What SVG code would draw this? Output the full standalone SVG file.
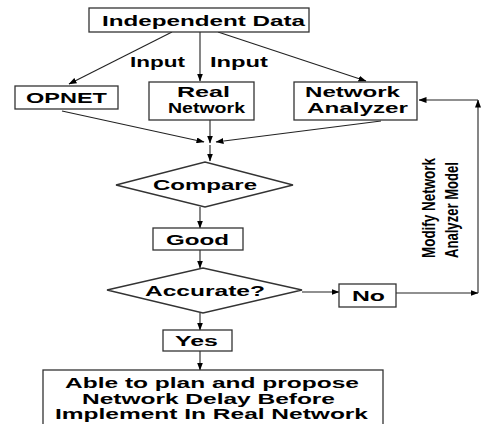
<svg xmlns="http://www.w3.org/2000/svg" width="485" height="424" viewBox="0 0 485 424">
<defs>
<marker id="ah" markerWidth="8" markerHeight="6" refX="7.5" refY="3" orient="auto" markerUnits="userSpaceOnUse">
<path d="M0,0 L8,3 L0,6 Z" fill="#000"/>
</marker>
<style>
.box{fill:#fff;stroke:#333;stroke-width:1.3}
.t{font-family:"Liberation Sans",Arial,sans-serif;font-weight:bold;font-size:15px;fill:#000}
.c{fill:none;stroke:#222;stroke-width:1.1}
.r{font-family:"Liberation Sans",Arial,sans-serif;font-weight:bold;font-size:18px;fill:#000}
</style>
</defs>
<rect width="485" height="424" fill="#fff"/>
<g id="connectors">
<line class="c" x1="172" y1="32" x2="69" y2="84" marker-end="url(#ah)"/>
<line class="c" x1="200" y1="32" x2="200" y2="81" marker-end="url(#ah)"/>
<line class="c" x1="218" y1="32" x2="366" y2="81" marker-end="url(#ah)"/>
<line class="c" x1="62" y1="111" x2="204" y2="142" marker-end="url(#ah)"/>
<line class="c" x1="210" y1="120" x2="210" y2="143" marker-end="url(#ah)"/>
<line class="c" x1="381" y1="121" x2="216" y2="142" marker-end="url(#ah)"/>
<line class="c" x1="210" y1="145" x2="210" y2="161" marker-end="url(#ah)"/>
<line class="c" x1="200" y1="207" x2="200" y2="228" marker-end="url(#ah)"/>
<line class="c" x1="200" y1="250" x2="200" y2="268" marker-end="url(#ah)"/>
<line class="c" x1="302" y1="292" x2="339" y2="292" marker-end="url(#ah)"/>
<line class="c" x1="396" y1="293" x2="478" y2="293" marker-end="url(#ah)"/>
<line class="c" x1="478" y1="293" x2="478" y2="100" marker-end="url(#ah)"/>
<line class="c" x1="478" y1="100" x2="419" y2="100" marker-end="url(#ah)"/>
<line class="c" x1="200" y1="313" x2="200" y2="330" marker-end="url(#ah)"/>
<line class="c" x1="200" y1="351" x2="200" y2="370" marker-end="url(#ah)"/>
<text class="t" x="130" y="67" textLength="55" lengthAdjust="spacingAndGlyphs">Input</text>
<text class="t" x="210" y="67" textLength="58" lengthAdjust="spacingAndGlyphs">Input</text>
<text class="r" transform="translate(435,208) rotate(-90)" text-anchor="middle" textLength="100" lengthAdjust="spacingAndGlyphs">Modify Network</text>
<text class="r" transform="translate(458,210) rotate(-90)" text-anchor="middle" textLength="96" lengthAdjust="spacingAndGlyphs">Analyzer Model</text>
</g>
<g id="independent-data">
<rect class="box" x="89" y="8" width="220" height="24"/>
<text class="t" x="102" y="26" textLength="203" lengthAdjust="spacingAndGlyphs">Independent Data</text>
</g>
<g id="opnet">
<rect class="box" x="15" y="86" width="103" height="23"/>
<text class="t" x="26" y="103" textLength="81" lengthAdjust="spacingAndGlyphs">OPNET</text>
</g>
<g id="real-network">
<rect class="box" x="149" y="82" width="105" height="38"/>
<text class="t" x="177" y="97" textLength="53" lengthAdjust="spacingAndGlyphs">Real</text>
<text class="t" x="168" y="113" textLength="77" lengthAdjust="spacingAndGlyphs">Network</text>
</g>
<g id="network-analyzer">
<rect class="box" x="294" y="82" width="123" height="38"/>
<text class="t" x="305" y="97" textLength="95" lengthAdjust="spacingAndGlyphs">Network</text>
<text class="t" x="307" y="113" textLength="101" lengthAdjust="spacingAndGlyphs">Analyzer</text>
</g>
<g id="compare">
<polygon class="box" points="116,185 205,162 293,185 205,207"/>
<text class="t" x="153" y="190" textLength="104" lengthAdjust="spacingAndGlyphs">Compare</text>
</g>
<g id="good">
<rect class="box" x="153" y="228" width="90" height="22"/>
<text class="t" x="166" y="245" textLength="63" lengthAdjust="spacingAndGlyphs">Good</text>
</g>
<g id="accurate">
<polygon class="box" points="107,290 203,268 302,290 203,313"/>
<text class="t" x="145" y="296" textLength="120" lengthAdjust="spacingAndGlyphs">Accurate?</text>
</g>
<g id="no">
<rect class="box" x="339" y="284" width="57" height="23"/>
<text class="t" x="352" y="301" textLength="33" lengthAdjust="spacingAndGlyphs">No</text>
</g>
<g id="yes">
<rect class="box" x="163" y="330" width="69" height="21"/>
<text class="t" x="175" y="346" textLength="43" lengthAdjust="spacingAndGlyphs">Yes</text>
</g>
<g id="result">
<rect class="box" x="43" y="370" width="340" height="60"/>
<text class="t" x="65" y="388" textLength="294" lengthAdjust="spacingAndGlyphs">Able to plan and propose</text>
<text class="t" x="82" y="403.5" textLength="253" lengthAdjust="spacingAndGlyphs">Network Delay Before</text>
<text class="t" x="55" y="419" textLength="313" lengthAdjust="spacingAndGlyphs">Implement In Real Network</text>
</g>
</svg>
